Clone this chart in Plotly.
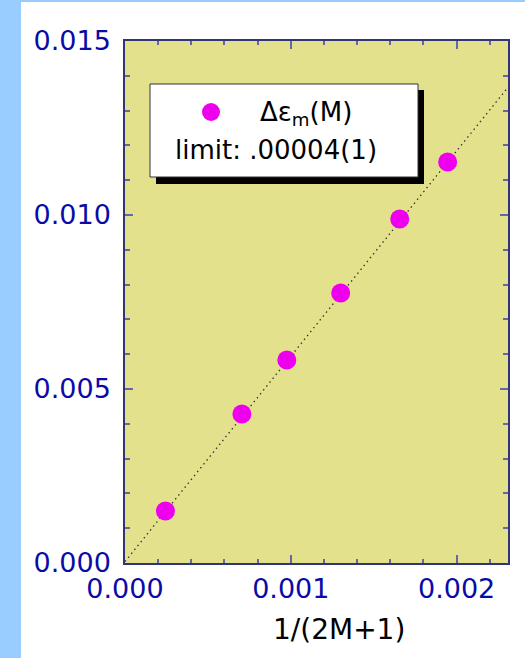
import plotly.graph_objects as go

# ---- data ----
inv_2M1 = [0.000244, 0.000705, 0.000976, 0.001301, 0.001657, 0.001946]
delta_eps = [0.001494, 0.004282, 0.005833, 0.007759, 0.009885, 0.011523]
fit_intercept = 0.00004
fit_slope = 5.9
fit_x = [0.0, 0.00231]
fit_y = [fit_intercept + fit_slope * v for v in fit_x]

x_range = [0.0, 0.00231]
y_range = [0.0, 0.015]
x_ticks = [0.000, 0.001, 0.002]
y_ticks = [0.000, 0.005, 0.010, 0.015]

legend_label = "\u0394\u03b5<sub>m</sub>(M)"
legend_limit = "limit: .00004(1)"
x_title = "1/(2M+1)"

FONT = "DejaVu Sans"
W, H = 525, 658
L, R, T, B = 125, 17, 41, 95
pw, ph = W - L - R, H - T - B


def px(xp):
    return (xp - L) / pw


def py(yp):
    return (H - B - yp) / ph


fig = go.Figure()
fig.add_trace(go.Scatter(
    x=fit_x, y=fit_y, mode="lines",
    line=dict(color="#333333", width=1.3, dash="1.5px,3.5px"),
    hoverinfo="skip", showlegend=False))
fig.add_trace(go.Scatter(
    x=inv_2M1, y=delta_eps, mode="markers",
    marker=dict(size=19, color="#EE00EE", line=dict(width=0)),
    showlegend=False))

axis_common = dict(
    showgrid=False, zeroline=False, showline=True, linecolor="#333377",
    linewidth=1.5, mirror="ticks", ticks="inside", tickcolor="#6666AA",
    tickwidth=1.5, ticklen=8, tickformat=".3f",
    tickfont=dict(family=FONT, size=27, color="#0A0AA8"),
)
fig.update_xaxes(range=x_range, tickvals=x_ticks, ticklabelstandoff=1,
                 minor=dict(dtick=0.0002, ticks="inside", ticklen=4,
                            tickcolor="#6666AA", tickwidth=1.5),
                 **axis_common)
fig.update_yaxes(range=y_range, tickvals=y_ticks, ticklabelstandoff=7,
                 minor=dict(dtick=0.001, ticks="inside", ticklen=5,
                            tickcolor="#6666AA", tickwidth=1.5),
                 **axis_common)

shapes = [
    # light-blue frame bands
    dict(type="rect", xref="paper", yref="paper", layer="below",
         x0=px(0), x1=px(21), y0=py(H), y1=py(0),
         fillcolor="#99CCFF", line=dict(width=0)),
    dict(type="rect", xref="paper", yref="paper", layer="below",
         x0=px(0), x1=px(W), y0=py(2), y1=py(0),
         fillcolor="#99CCFF", line=dict(width=0)),
    # legend shadow and box
    dict(type="rect", xref="paper", yref="paper",
         x0=px(156), x1=px(424), y0=py(184), y1=py(90),
         fillcolor="black", line=dict(width=0)),
    dict(type="rect", xref="paper", yref="paper",
         x0=px(150), x1=px(418), y0=py(177), y1=py(84),
         fillcolor="white", line=dict(color="#333333", width=1)),
    # legend marker
    dict(type="circle", xref="paper", yref="paper",
         xsizemode="pixel", ysizemode="pixel",
         xanchor=px(211), yanchor=py(112),
         x0=-9, x1=9, y0=-9, y1=9,
         fillcolor="#EE00EE", line=dict(width=0)),
]

annotations = [
    dict(xref="paper", yref="paper", x=px(306), y=py(113), text=legend_label,
         showarrow=False, xanchor="center", yanchor="middle",
         font=dict(family=FONT, size=26, color="black")),
    dict(xref="paper", yref="paper", x=px(276), y=py(150), text=legend_limit,
         showarrow=False, xanchor="center", yanchor="middle",
         font=dict(family=FONT, size=26, color="black")),
    dict(xref="paper", yref="paper", x=px(339), y=py(629), text=x_title,
         showarrow=False, xanchor="center", yanchor="middle",
         font=dict(family=FONT, size=28, color="black")),
]

fig.update_layout(
    width=W, height=H, margin=dict(l=L, r=R, t=T, b=B),
    paper_bgcolor="white", plot_bgcolor="#E4E18D",
    shapes=shapes, annotations=annotations, showlegend=False,
)

fig.write_html("out.html")
